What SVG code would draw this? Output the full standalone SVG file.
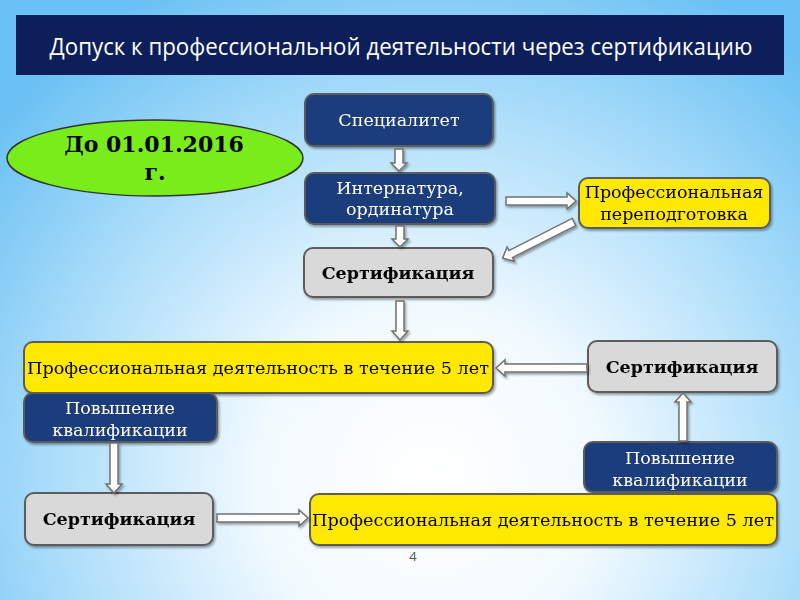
<svg xmlns="http://www.w3.org/2000/svg" width="800" height="600" viewBox="0 0 800 600">
<defs>
<radialGradient id="bg" cx="430" cy="480" r="560" gradientUnits="userSpaceOnUse">
<stop offset="0" stop-color="#ffffff"/>
<stop offset="0.3" stop-color="#f2faff"/>
<stop offset="0.65" stop-color="#b0dffa"/>
<stop offset="1" stop-color="#6ac1f3"/>
</radialGradient>
<filter id="sh" x="-10%" y="-10%" width="130%" height="140%">
<feDropShadow dx="1.5" dy="2" stdDeviation="1.2" flood-color="#000" flood-opacity="0.35"/>
</filter>
<style>
.blue{fill:#1f3d7b;stroke:#5b5b5b;stroke-width:2}
.gray{fill:#d9d9d9;stroke:#5b5b5b;stroke-width:2}
.yel{fill:#ffe900;stroke:#5b5b5b;stroke-width:2}
.wt{font-family:"DejaVu Serif","Liberation Serif",serif;font-size:17.5px;fill:#ffffff;text-anchor:middle}
.bt{font-family:"DejaVu Serif","Liberation Serif",serif;font-size:17.5px;fill:#000;text-anchor:middle}
.lt{font-family:"DejaVu Serif","Liberation Serif",serif;font-size:16.5px;fill:#000;text-anchor:middle}
.bold{font-family:"DejaVu Serif","Liberation Serif",serif;font-size:17.5px;font-weight:bold;fill:#000;text-anchor:middle}
.arr{fill:#ffffff;stroke:#707070;stroke-width:1.5;stroke-linejoin:miter}
</style>
</defs>
<rect x="0" y="0" width="800" height="600" fill="url(#bg)"/>
<g id="title">
<rect x="16" y="15" width="768" height="60" fill="#0c1f5a"/>
<text x="401" y="55" font-family="'Open Sans','DejaVu Sans',sans-serif" font-size="23" fill="#ffffff" text-anchor="middle" textLength="703" lengthAdjust="spacingAndGlyphs">Допуск к профессиональной деятельности через сертификацию</text>
</g>
<g id="date">
<ellipse cx="155" cy="158" rx="148" ry="38" fill="#79ec1c" stroke="#333" stroke-width="1.5"/>
<text x="154" y="152" font-family="'DejaVu Serif','Liberation Serif',serif" font-size="22" font-weight="bold" text-anchor="middle" fill="#000">До 01.01.2016</text>
<text x="155" y="180" font-family="'DejaVu Serif','Liberation Serif',serif" font-size="22" font-weight="bold" text-anchor="middle" fill="#000">г.</text>
</g>
<g id="n_spec" filter="url(#sh)">
<rect class="blue" x="305" y="94" width="188" height="52" rx="9"/>
<text class="wt" x="399" y="126">Специалитет</text>
</g>
<g id="n_intern" filter="url(#sh)">
<rect class="blue" x="305" y="173" width="190" height="51" rx="9"/>
<text class="wt" x="400" y="194">Интернатура,</text>
<text class="wt" x="400" y="215">ординатура</text>
</g>
<g id="n_cert1" filter="url(#sh)">
<rect class="gray" x="304" y="248" width="189" height="49" rx="9"/>
<text class="bold" x="398" y="279">Сертификация</text>
</g>
<g id="n_retrain" filter="url(#sh)">
<rect class="yel" x="579" y="178" width="191" height="50" rx="9"/>
<text class="bt" x="674" y="198">Профессиональная</text>
<text class="bt" x="674" y="220">переподготовка</text>
</g>
<g id="n_prof1" filter="url(#sh)">
<rect class="yel" x="24" y="342" width="469" height="51" rx="9"/>
<text class="lt" x="258" y="374" textLength="462" lengthAdjust="spacingAndGlyphs">Профессиональная деятельность в течение 5 лет</text>
</g>
<g id="n_cert2" filter="url(#sh)">
<rect class="gray" x="588" y="341" width="189" height="51" rx="9"/>
<text class="bold" x="682" y="373">Сертификация</text>
</g>
<g id="n_qual1" filter="url(#sh)">
<rect class="blue" x="24" y="393" width="193" height="49" rx="9"/>
<text class="wt" x="120" y="414">Повышение</text>
<text class="wt" x="120" y="436">квалификации</text>
</g>
<g id="n_qual2" filter="url(#sh)">
<rect class="blue" x="584" y="442" width="193" height="50" rx="9"/>
<text class="wt" x="680" y="464">Повышение</text>
<text class="wt" x="680" y="486">квалификации</text>
</g>
<g id="n_cert3" filter="url(#sh)">
<rect class="gray" x="25" y="493" width="188" height="52" rx="9"/>
<text class="bold" x="119" y="525">Сертификация</text>
</g>
<g id="n_prof2" filter="url(#sh)">
<rect class="yel" x="310" y="494" width="467" height="51" rx="9"/>
<text class="lt" x="543" y="526" textLength="462" lengthAdjust="spacingAndGlyphs">Профессиональная деятельность в течение 5 лет</text>
</g>
<g id="connectors" filter="url(#sh)">
<path class="arr" d="M395,149 H403 V163 H407 L399,171 L391,163 H395 Z"/>
<path class="arr" d="M396,226 H404 V239 H408 L400,247 L392,239 H396 Z"/>
<path class="arr" d="M396,301 H404 V331 H408 L400,340 L392,331 H396 Z"/>
<path class="arr" d="M506,197 H567 V193 L576,201 L567,209 V205 H506 Z"/>
<path class="arr" transform="translate(574,222) rotate(153.1)" d="M0,-4 H71 V-8 L80,0 L71,8 V4 H0 Z"/>
<path class="arr" d="M587,364 H505 V360 L496,368 L505,376 V372 H587 Z"/>
<path class="arr" d="M110,443 H118 V484 H122 L114,493 L106,484 H110 Z"/>
<path class="arr" d="M679,441 H687 V402 H691 L683,393 L675,402 H679 Z"/>
<path class="arr" d="M217,514 H299 V510 L308,518 L299,526 V522 H217 Z"/>
</g>
<text x="413" y="561" font-family="'Open Sans','DejaVu Sans',sans-serif" font-size="13" fill="#555" text-anchor="middle">4</text>
</svg>
